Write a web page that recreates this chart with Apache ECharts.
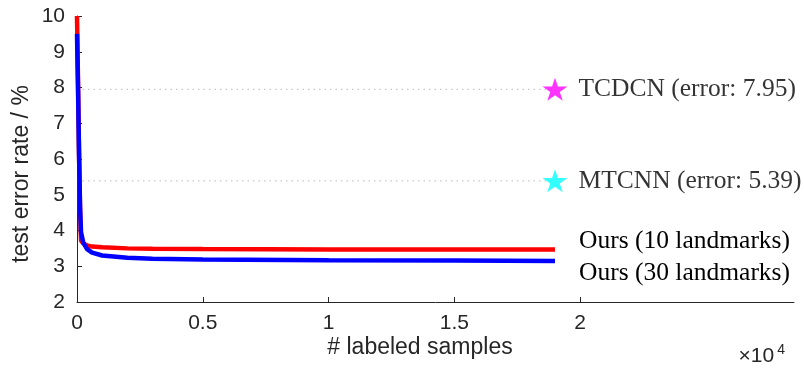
<!DOCTYPE html>
<html>
<head>
<meta charset="utf-8">
<script src="https://cdn.jsdelivr.net/npm/echarts@6/dist/echarts.min.js"></script>
<style>html,body{margin:0;padding:0;background:#fff}#c{width:804px;height:370px}</style>
</head>
<body>
<div id="c"></div>
<script>
// samples (x) and error rates (y)
var ours10X = [0, 40, 80, 120, 160, 250, 400, 600, 1000, 2000, 3000, 5000, 10000, 15000, 19000];
var ours10Y = [10, 8.2, 6.2, 4.6, 3.72, 3.64, 3.58, 3.55, 3.53, 3.50, 3.49, 3.48, 3.47, 3.47, 3.47];
var ours30X = [0, 40, 80, 120, 160, 250, 400, 600, 1000, 2000, 3000, 5000, 10000, 15000, 19000];
var ours30Y = [9.5, 8.0, 6.2, 4.7, 3.95, 3.66, 3.48, 3.38, 3.30, 3.24, 3.21, 3.19, 3.17, 3.16, 3.15];
var refNames = ['TCDCN (error: 7.95)', 'MTCNN (error: 5.39)'];
var refErrors = [7.95, 5.39];
var refColors = ['#ff00ff', '#00ffff'];
var refX = 19000;
var seriesNames = ['Ours (10 landmarks)', 'Ours (30 landmarks)'];
var xTicks = [0, 5000, 10000, 15000, 20000];
var yTicks = [2, 3, 4, 5, 6, 7, 8, 9, 10];
var xName = '# labeled samples';
var yName = 'test error rate / %';

function zip(xs, ys) { return xs.map(function (x, i) { return [x, ys[i]]; }); }

var starPath = 'path://M50,0 L61.2,34.5 L97.6,34.5 L68.2,55.9 L79.4,90.5 L50,69.1 L20.6,90.5 L31.8,55.9 L2.4,34.5 L38.8,34.5 Z';
var axisColor = '#262626';
var sans = 'Liberation Sans';
var serif = 'Liberation Serif';

var series = [];
refErrors.forEach(function (e, i) {
  series.push({
    type: 'line', data: [[0, e], [refX, e]], symbol: 'none', silent: true,
    lineStyle: { color: '#c8c8c8', width: 1.2, type: [1.5, 4] }, z: 1
  });
  series.push({
    type: 'scatter', data: [[refX, e]], symbol: starPath, symbolSize: [25, 23],
    itemStyle: { color: refColors[i] }, z: 5,
    label: { show: true, position: 'right', distance: 11, formatter: refNames[i],
      fontFamily: serif, fontSize: 25.5, color: '#000' }
  });
});
series.push({
  type: 'line', name: seriesNames[0], data: zip(ours10X, ours10Y), symbol: 'none',
  lineStyle: { color: '#ff0000', width: 4.5 }, z: 3,
  endLabel: { show: true, formatter: seriesNames[0], fontFamily: serif, fontSize: 25.5, color: '#000', distance: 24, offset: [0, -8] }
});
series.push({
  type: 'line', name: seriesNames[1], data: zip(ours30X, ours30Y), symbol: 'none',
  lineStyle: { color: '#0000ff', width: 4.5 }, z: 4,
  endLabel: { show: true, formatter: seriesNames[1], fontFamily: serif, fontSize: 25.5, color: '#000', distance: 24, offset: [0, 12] }
});

var chart = echarts.init(document.getElementById('c'), null, { renderer: 'canvas' });
chart.setOption({
  animation: false,
  backgroundColor: '#fff',
  grid: { left: 77, right: 10, top: 16, bottom: 68, containLabel: false },
  xAxis: {
    type: 'value', min: 0, max: 28500,
    axisLine: { show: true, lineStyle: { color: axisColor, width: 1 } },
    axisTick: { show: true, inside: true, length: 5, customValues: xTicks, lineStyle: { color: axisColor } },
    axisLabel: { customValues: xTicks, formatter: function (v) { return String(v / 10000); },
      fontFamily: sans, fontSize: 21, color: axisColor, margin: 11 },
    splitLine: { show: false }
  },
  yAxis: {
    type: 'value', min: 2, max: 10, interval: 1,
    axisLine: { show: true, lineStyle: { color: axisColor, width: 1 } },
    axisTick: { show: true, inside: true, length: 5, lineStyle: { color: axisColor } },
    axisLabel: { fontFamily: sans, fontSize: 21, color: axisColor, margin: 12 },
    splitLine: { show: false }
  },
  graphic: [{
    type: 'text', x: 22, y: 174, rotation: Math.PI / 2,
    style: { text: yName, fontFamily: sans, fontSize: 23, fill: axisColor, align: 'center', verticalAlign: 'middle' }
  }, {
    type: 'text', x: 420, y: 336,
    style: { text: xName, fontFamily: sans, fontSize: 23, fill: axisColor, align: 'center', verticalAlign: 'top' }
  }, {
    type: 'text', x: 785, y: 356,
    style: { text: '×10{s|4}', fontFamily: sans, fontSize: 21, fill: axisColor, align: 'right', verticalAlign: 'middle',
      rich: { s: { fontFamily: sans, fontSize: 14, fill: axisColor, verticalAlign: 'top', padding: [0, 0, 12, 3] } } }
  }],
  series: series
});
</script>
</body>
</html>
